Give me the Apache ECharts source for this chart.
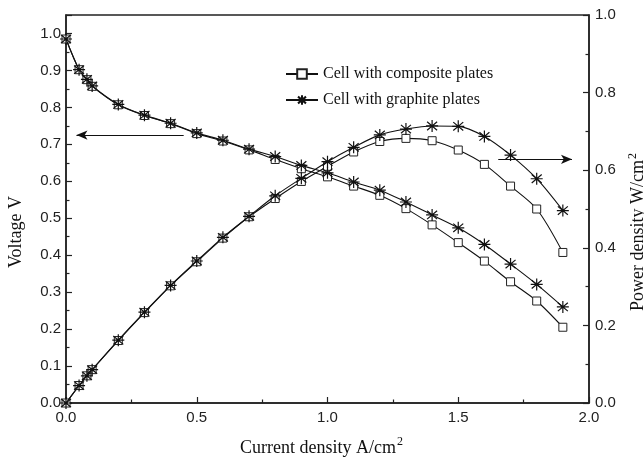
<!DOCTYPE html>
<html>
<head>
<meta charset="utf-8">
<script src="https://cdn.jsdelivr.net/npm/echarts@6/dist/echarts.min.js"></script>
<style>
  html, body { margin: 0; padding: 0; background: #fff; }
  #main { width: 644px; height: 457px; }
</style>
</head>
<body>
<div id="main"></div>
<script>
// current density A/cm2
var current = [0, 0.05, 0.08, 0.1, 0.2, 0.3, 0.4, 0.5, 0.6, 0.7, 0.8, 0.9, 1.0, 1.1, 1.2, 1.3, 1.4, 1.5, 1.6, 1.7, 1.8, 1.9];
// voltage V
var voltComposite = [0.985, 0.902, 0.875, 0.857, 0.807, 0.778, 0.756, 0.729, 0.709, 0.685, 0.659, 0.634, 0.612, 0.587, 0.562, 0.526, 0.482, 0.434, 0.384, 0.328, 0.276, 0.205];
var voltGraphite = [0.985, 0.902, 0.876, 0.858, 0.808, 0.779, 0.757, 0.731, 0.711, 0.687, 0.667, 0.643, 0.623, 0.598, 0.576, 0.544, 0.509, 0.474, 0.429, 0.376, 0.321, 0.260];
// power density W/cm2
var powerComposite = [0, 0.045, 0.07, 0.086, 0.161, 0.233, 0.302, 0.364, 0.425, 0.480, 0.527, 0.571, 0.610, 0.647, 0.674, 0.682, 0.676, 0.652, 0.615, 0.559, 0.500, 0.388];
var powerGraphite = [0, 0.045, 0.07, 0.086, 0.162, 0.234, 0.303, 0.366, 0.427, 0.481, 0.534, 0.579, 0.622, 0.659, 0.691, 0.706, 0.714, 0.713, 0.687, 0.639, 0.578, 0.496];

var nameComposite = 'Cell with composite plates';
var nameGraphite = 'Cell with graphite plates';

// arrows pointing to the axes (data coordinates)
var arrowLeft = [[0.45, 0.725], [0.04, 0.725]];
var arrowRight = [[1.653, 0.628], [1.935, 0.628]];

var starPath = 'path://M50 0 L50 100 M15 15 L85 85 M15 85 L85 15 M8 50 L92 50';

function pairs(ys) {
  return current.map(function (x, i) { return [x, ys[i]]; });
}

var serif = '"Liberation Serif", "DejaVu Serif", serif';
var sans = '"Liberation Sans", Arial, sans-serif';

var squareStyle = {
  symbol: 'rect',
  symbolSize: 8,
  itemStyle: { color: '#fff', borderColor: '#222', borderWidth: 1 }
};
var starStyle = {
  symbol: starPath,
  symbolSize: 12,
  itemStyle: { color: 'transparent', borderColor: '#111', borderWidth: 1.2 }
};

function makeSeries(name, data, yIdx, sym, z) {
  return {
    name: name,
    type: 'line',
    yAxisIndex: yIdx,
    data: pairs(data),
    smooth: 0.3,
    symbol: sym.symbol,
    symbolSize: sym.symbolSize,
    showAllSymbol: true,
    itemStyle: sym.itemStyle,
    lineStyle: { color: '#111', width: 1.1 },
    z: z
  };
}

// empty helper series that only carries an arrow
function arrowSeries(pts, yIdx) {
  return {
    name: 'arrow' + yIdx,
    type: 'line',
    yAxisIndex: yIdx,
    data: [],
    color: '#111',
    itemStyle: { color: '#111' },
    markLine: {
      silent: true,
      symbol: ['none', 'arrow'],
      symbolSize: [7, 11],
      label: { show: false },
      lineStyle: { color: '#111', width: 1, type: 'solid' },
      data: [[{ coord: pts[0] }, { coord: pts[1] }]]
    }
  };
}

var axisLine = { show: true, lineStyle: { color: '#222', width: 1.5 } };
var tick = { show: true, inside: true, length: 6, lineStyle: { color: '#222', width: 1.2 } };
var minor = { show: true, splitNumber: 2, length: 3.5, lineStyle: { color: '#222', width: 1.2 } };
var fmt1 = function (v) {
  var r = Math.round(v * 10) / 10;
  return Math.abs(r - v) < 1e-6 ? r.toFixed(1) : '';
};

var myChart = echarts.init(document.getElementById('main'));

myChart.setOption({
  animation: false,
  grid: {
    left: 66, right: 55, top: 15, bottom: 54,
    containLabel: false,
    outerBoundsMode: 'none',
    show: true, borderColor: '#222', borderWidth: 1.5
  },
  legend: {
    data: [nameComposite, nameGraphite],
    orient: 'vertical',
    left: 280,
    top: 61,
    itemWidth: 32,
    itemHeight: 12,
    itemGap: 10,
    textStyle: { fontFamily: serif, fontSize: 16, color: '#111' }
  },
  xAxis: {
    type: 'value',
    min: 0, max: 2, interval: 0.5,
    name: 'Current density A/cm{sup|2}',
    nameLocation: 'middle',
    nameGap: 33,
    nameTextStyle: {
      fontFamily: serif, fontSize: 18, color: '#111',
      padding: [0, 12, 0, 0],
      rich: { sup: { fontFamily: serif, fontSize: 12, color: '#111', padding: [0, 0, 12, 1] } }
    },
    axisLine: axisLine,
    axisTick: tick,
    minorTick: minor,
    splitLine: { show: false },
    axisLabel: { formatter: fmt1, fontFamily: sans, fontSize: 15, color: '#222', margin: 7 }
  },
  yAxis: [
    {
      type: 'value',
      min: 0, max: 1.05, interval: 0.1,
      name: 'Voltage V',
      nameLocation: 'middle',
      nameGap: 41,
      nameTextStyle: { fontFamily: serif, fontSize: 18, color: '#111', padding: [0, 46, 0, 0] },
      axisLine: axisLine,
      axisTick: tick,
      minorTick: minor,
      splitLine: { show: false },
      axisLabel: { formatter: fmt1, fontFamily: sans, fontSize: 15, color: '#222', margin: 5 }
    },
    {
      type: 'value',
      position: 'right',
      min: 0, max: 1.0, interval: 0.2,
      name: 'Power density W/cm{sup|2}',
      nameLocation: 'middle',
      nameGap: 36,
      nameRotate: 90,
      nameTextStyle: {
        fontFamily: serif, fontSize: 18, color: '#111',
        padding: [0, 46, 0, 0],
        rich: { sup: { fontFamily: serif, fontSize: 12, color: '#111', padding: [0, 0, 12, 1] } }
      },
      axisLine: axisLine,
      axisTick: tick,
      minorTick: minor,
      splitLine: { show: false },
      axisLabel: { formatter: fmt1, fontFamily: sans, fontSize: 15, color: '#222', margin: 6 }
    }
  ],
  series: [
    makeSeries(nameComposite, voltComposite, 0, squareStyle, 3),
    makeSeries(nameGraphite, voltGraphite, 0, starStyle, 4),
    makeSeries(nameComposite, powerComposite, 1, squareStyle, 3),
    makeSeries(nameGraphite, powerGraphite, 1, starStyle, 4),
    arrowSeries(arrowLeft, 0),
    arrowSeries(arrowRight, 1)
  ]
});
</script>
</body>
</html>
